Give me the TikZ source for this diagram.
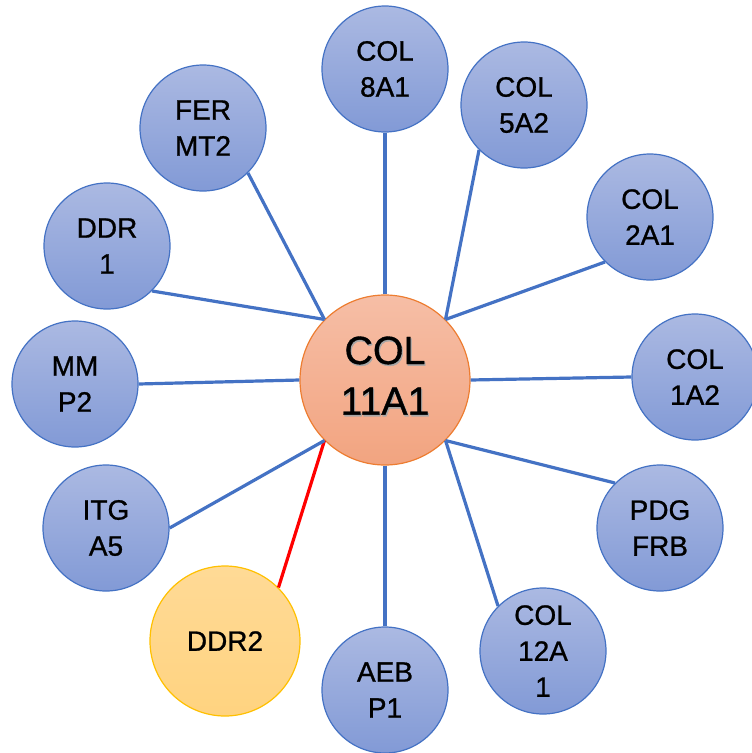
\documentclass[tikz,border=0pt]{standalone}
\usepackage{fontspec}
\setmainfont{Liberation Sans}[FakeBold=0.9]
\definecolor{bluedge}{RGB}{68,114,196}
\definecolor{bluetop}{RGB}{171,185,226}
\definecolor{bluebot}{RGB}{130,154,214}
\definecolor{orgtop}{RGB}{246,190,166}
\definecolor{orgbot}{RGB}{242,164,128}
\definecolor{orgedge}{RGB}{237,125,49}
\definecolor{yeltop}{RGB}{255,218,150}
\definecolor{yelbot}{RGB}{255,211,128}
\definecolor{yeledge}{RGB}{255,192,0}
\newcommand\mytab[1]{\begin{tabular}{@{}c@{}}#1\end{tabular}}
\newcommand\shadowed[1]{\makebox[0pt]{\raisebox{-1.2pt}{\hspace{1.6pt}\textcolor{black!35}{\mytab{#1}}}}\makebox[0pt]{\mytab{#1}}}
\tikzset{
  gene/.style={circle, draw=bluedge, line width=0.9pt, top color=bluetop, bottom color=bluebot,
    minimum size=94.5pt, inner sep=0pt, align=center, font=\fontsize{21}{27}\selectfont},
  hub/.style={circle, draw=orgedge, line width=0.9pt, top color=orgtop, bottom color=orgbot,
    minimum size=127.5pt, inner sep=0pt, font=\fontsize{29.5}{38}\selectfont},
  hit/.style={circle, draw=yeledge, line width=0.9pt, top color=yeltop, bottom color=yelbot,
    minimum size=112.5pt, inner sep=0pt, align=center, font=\fontsize{21}{27}\selectfont},
  link/.style={draw=bluedge, line width=2.4pt},
  redlink/.style={draw=red, line width=2.4pt}
}
\begin{document}
\begin{tikzpicture}[x=0.75pt,y=-0.75pt]
\useasboundingbox (0,0) rectangle (752,753);
\node[hub] (c) at (385,380) {\shadowed{COL\\11A1}};
\node[gene] (col8) at (385,69) {COL\\8A1};
\node[gene] (col5) at (524,105) {COL\\5A2};
\node[gene] (col2) at (650,217) {COL\\2A1};
\node[gene] (col1) at (695,377) {COL\\1A2};
\node[gene] (pdg) at (660,528) {PDG\\FRB};
\node[gene] (col12) at (543,651) {COL\\12A\\1};
\node[gene] (aeb) at (385,690) {AEB\\P1};
\node[hit] (ddr2) at (225,641) {DDR2};
\node[gene] (itg) at (106,528) {ITG\\A5};
\node[gene] (mm) at (75,384) {MM\\P2};
\node[gene] (ddr1) at (107,246) {DDR\\1};
\node[gene] (fer) at (203,128) {FER\\MT2};
\draw[link] (c.90) -- (col8.270);
\draw[link] (c.45) -- (col5.225);
\draw[link] (c.45) -- (col2.225);
\draw[link] (c.0) -- (col1.180);
\draw[link] (c.-45) -- (pdg.135);
\draw[link] (c.-45) -- (col12.135);
\draw[link] (c.-90) -- (aeb.90);
\draw[redlink] (c.-135) -- (ddr2.45);
\draw[link] (c.-135) -- (itg.0);
\draw[link] (c.180) -- (mm.0);
\draw[link] (c.135) -- (ddr1.-45);
\draw[link] (c.135) -- (fer.-45);
\end{tikzpicture}
\end{document}
